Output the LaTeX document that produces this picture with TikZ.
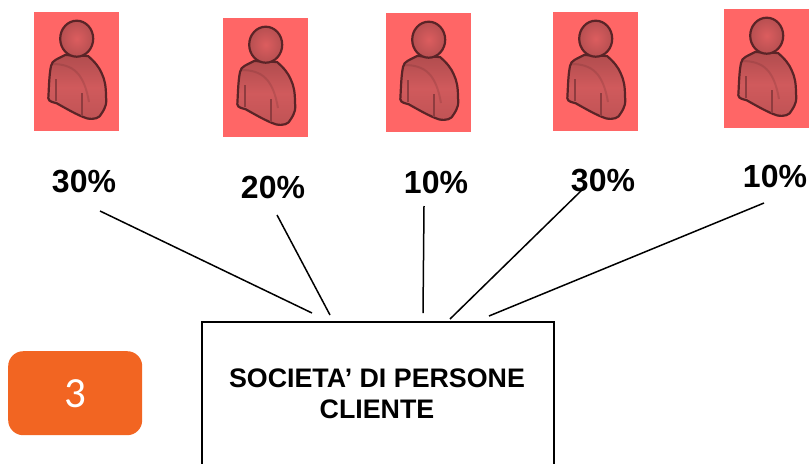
\documentclass[tikz,border=0pt]{standalone}
\usepackage{fontspec}
\setmainfont{Liberation Sans}
\newfontfamily\carl{Carlito}
\definecolor{pback}{HTML}{FF6666}
\definecolor{pbody}{HTML}{D05A5C}
\definecolor{pdark}{HTML}{5A2427}
\definecolor{orangebox}{HTML}{F26522}
\tikzset{
  x=1pt,y=-1pt,
  pct/.style={font=\fontsize{32}{32}\selectfont\bfseries,inner sep=0pt,anchor=center},
  link/.style={draw=black,line width=1.5pt},
  pics/person/.style={code={
    \fill[pback] (0,0) rectangle (85,119);
    \path[draw=pdark,line width=2.2pt,line join=round,top color=pbody!85!black,bottom color=pbody!92!black,middle color=pbody]
      (31,43) .. controls (24,47) and (18,48) .. (17,54)
      .. controls (15,64) and (15,76) .. (14.3,86.3)
      .. controls (15,90) and (19,90) .. (22.7,91.3)
      .. controls (33,97) and (43,103) .. (52.7,106.3)
      .. controls (60,108) and (66,106) .. (67.7,101.3)
      .. controls (72,95) and (73,90) .. (72,84.7)
      .. controls (72,75) and (71,68) .. (67.7,61.3)
      .. controls (65,55) and (61,50) .. (54,44) -- cycle;
    \path[draw=pdark,draw opacity=.18,line width=2pt] (18,52) .. controls (40,52) and (50,62) .. (55,90);
    \draw[pdark!55!pbody,line width=2pt] (22,67) -- (22,89);
    \draw[pdark!55!pbody,line width=2.4pt] (48,81) -- (48,104);
    \path[draw=pdark,line width=2.2pt,inner color=pbody!75!pback,outer color=pbody!88!black]
      (42.7,26.7) ellipse [x radius=16.5,y radius=18];
  }}
}
\begin{document}
\begin{tikzpicture}
\useasboundingbox (0,0) rectangle (810,463);
\clip (0,0) rectangle (810,463);
\pic at (34,12) {person};
\pic at (223,18) {person};
\pic at (386,13) {person};
\pic at (553,12) {person};
\pic at (724,9) {person};
\node[pct] (p1) at (84,182) {30\%};
\node[pct] (p2) at (273,187) {20\%};
\node[pct] (p3) at (436,182) {10\%};
\node[pct] (p4) at (603,181) {30\%};
\node[pct] (p5) at (775,176) {10\%};
\node[draw=black,line width=2pt,minimum width=352.5pt,minimum height=180pt,anchor=north west,inner sep=0pt] (box) at (200.7,320.7) {};
\node[font=\fontsize{26.8}{31}\selectfont\bfseries,align=center,inner sep=0pt] (boxtext) at (377,394) {SOCIETA’ DI PERSONE\\CLIENTE};
\node[fill=orangebox,rounded corners=15pt,minimum width=134pt,minimum height=84pt,anchor=north west,inner sep=0pt,text=white,font=\carl\fontsize{43}{43}\selectfont] (num) at (8,351) {3};
\coordinate (a1) at (100,211); \coordinate (b1) at (312,313);
\coordinate (a2) at (277,215); \coordinate (b2) at (330,315);
\coordinate (a3) at (424,206); \coordinate (b3) at (423,313);
\coordinate (a4) at (585,187); \coordinate (b4) at (450,319);
\coordinate (a5) at (764,203); \coordinate (b5) at (489,316);
\draw[link] (a1) -- (b1);
\draw[link] (a2) -- (b2);
\draw[link] (a3) -- (b3);
\draw[link] (a4) -- (b4);
\draw[link] (a5) -- (b5);
\end{tikzpicture}
\end{document}
